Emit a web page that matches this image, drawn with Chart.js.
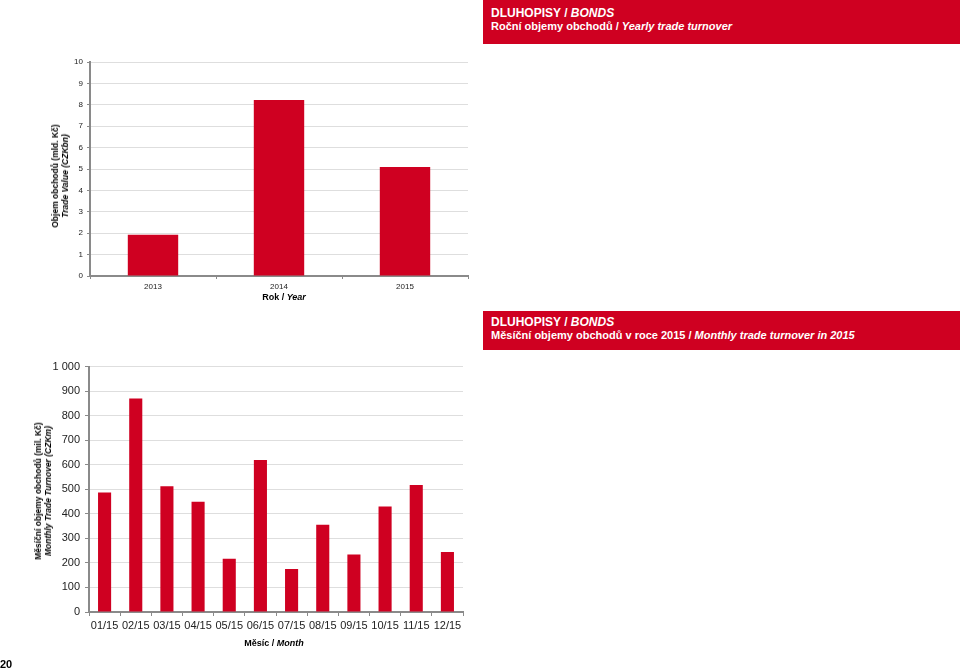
<!DOCTYPE html>
<html>
<head>
<meta charset="utf-8">
<script src="https://cdn.jsdelivr.net/npm/chart.js@4"></script>
<style>
  body { margin: 0; width: 960px; height: 671px; position: relative; background: #fff; overflow: hidden;
         font-family: "Liberation Sans", Arial, sans-serif; }
  canvas { position: absolute; left: 0; }
  .head { position: absolute; left: 483px; width: 477px; background: #cf0021; color: #fff; font-weight: bold;
          padding-left: 8px; box-sizing: border-box; }
  .head .l1 { font-size: 12px; }
  .head .l2 { font-size: 11px; }
  .lbl { position: absolute; font-weight: bold; color: #000; white-space: nowrap; text-align: center; }
  .rot { transform: translate(-50%, -50%) rotate(-90deg); line-height: 10px; }
  .hx { transform: translate(-50%, -50%); }
</style>
</head>
<body>
<div class="head" style="top:0; height:44px; padding-top:6px;">
  <div class="l1">DLUHOPISY / <i>BONDS</i></div>
  <div class="l2">Roční objemy obchodů / <i>Yearly trade turnover</i></div>
</div>
<div class="head" style="top:311px; height:39px; padding-top:4px;">
  <div class="l1">DLUHOPISY / <i>BONDS</i></div>
  <div class="l2">Měsíční objemy obchodů v roce 2015 / <i>Monthly trade turnover in 2015</i></div>
</div>

<canvas id="yearChart" width="480" height="310" style="top:0"></canvas>
<canvas id="monthChart" width="480" height="316" style="top:355px"></canvas>

<div class="lbl rot" style="left:60px; top:176px; font-size:8.5px;">Objem obchodů (mld. Kč)<br><i>Trade Value (CZKbn)</i></div>
<div class="lbl hx" style="left:284px; top:297px; font-size:9px;">Rok / <i>Year</i></div>
<div class="lbl rot" style="left:43px; top:491px; font-size:8.5px;">Měsíční objemy obchodů (mil. Kč)<br><i>Monthly Trade Turnover (CZKm)</i></div>
<div class="lbl hx" style="left:274px; top:643px; font-size:9px;">Měsíc / <i>Month</i></div>
<div class="lbl" style="left:0; top:658px; font-size:11px;">20</div>

<script>
const years = ['2013', '2014', '2015'];
const yearValues = [1.93, 8.22, 5.09];

const months = ['01/15', '02/15', '03/15', '04/15', '05/15', '06/15', '07/15', '08/15', '09/15', '10/15', '11/15', '12/15'];
const monthValues = [487, 870, 512, 449, 217, 619, 175, 356, 234, 430, 518, 244];

const red = '#cf0021';
const axisGray = '#8a8a8a';
const gridGray = '#dedede';

Chart.defaults.font.family = '"Liberation Sans", Arial, sans-serif';
Chart.defaults.color = '#222';

new Chart(document.getElementById('yearChart'), {
  type: 'bar',
  data: {
    labels: years,
    datasets: [{ data: yearValues, backgroundColor: red, categoryPercentage: 1, barPercentage: 0.4 }]
  },
  options: {
    responsive: false,
    animation: false,
    devicePixelRatio: 1,
    layout: { padding: { top: 62, right: 12, left: 0, bottom: 0 } },
    plugins: { legend: { display: false }, tooltip: { enabled: false } },
    scales: {
      x: {
        afterFit: function (scale) { scale.height = 34; },
        grid: { drawOnChartArea: false, tickColor: axisGray, tickLength: 3 },
        border: { color: axisGray, width: 2 },
        ticks: { font: { size: 8 }, padding: 3 }
      },
      y: {
        min: 0,
        max: 10,
        afterFit: function (scale) { scale.width = 90; },
        grid: { color: gridGray, tickColor: axisGray, tickLength: 3 },
        border: { color: axisGray, width: 2 },
        ticks: { stepSize: 1, font: { size: 8 }, padding: 4 }
      }
    }
  }
});

new Chart(document.getElementById('monthChart'), {
  type: 'bar',
  data: {
    labels: months,
    datasets: [{ data: monthValues, backgroundColor: red, categoryPercentage: 1, barPercentage: 0.42 }]
  },
  options: {
    responsive: false,
    animation: false,
    devicePixelRatio: 1,
    layout: { padding: { top: 10, right: 17, left: 0, bottom: 0 } },
    plugins: { legend: { display: false }, tooltip: { enabled: false } },
    scales: {
      x: {
        afterFit: function (scale) { scale.height = 59; },
        grid: { drawOnChartArea: false, tickColor: axisGray, tickLength: 4 },
        border: { color: axisGray, width: 2 },
        ticks: { font: { size: 11 }, padding: 3, maxRotation: 0 }
      },
      y: {
        min: 0,
        max: 1000,
        afterFit: function (scale) { scale.width = 89; },
        grid: { color: gridGray, tickColor: axisGray, tickLength: 4 },
        border: { color: axisGray, width: 2 },
        ticks: {
          stepSize: 100,
          font: { size: 11 },
          padding: 5,
          callback: function (v) { return v >= 1000 ? '1 000' : String(v); }
        }
      }
    }
  }
});
</script>
</body>
</html>
